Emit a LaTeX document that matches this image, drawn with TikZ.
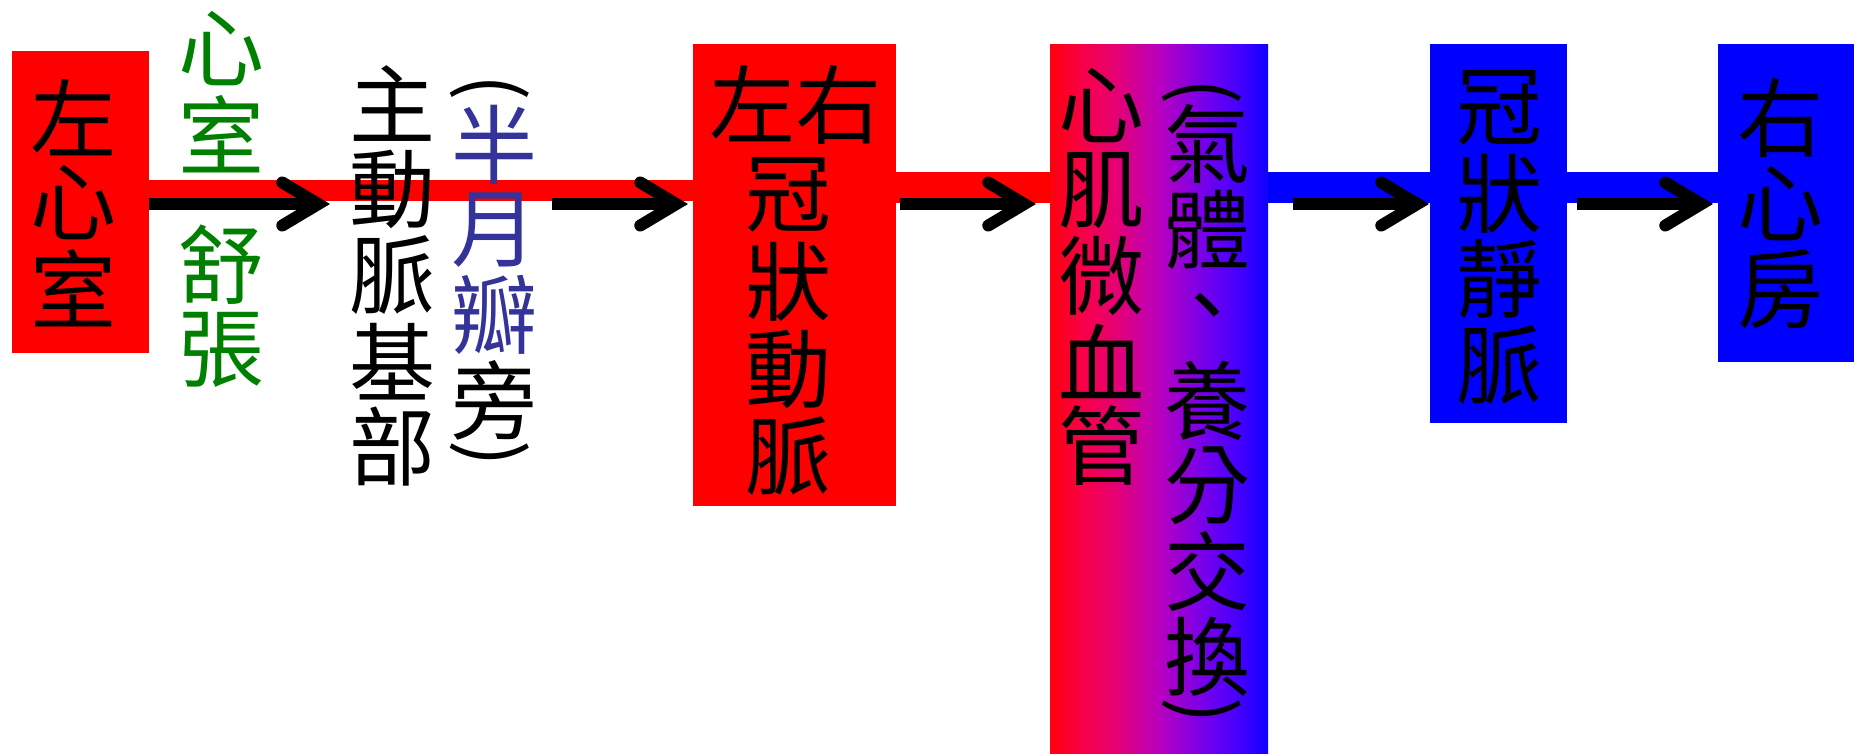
\documentclass[tikz,border=0pt]{standalone}
\usepackage{fontspec}
\newfontfamily\cjk{Noto Sans CJK TC}
\usetikzlibrary{arrows.meta}
\definecolor{cred}{RGB}{255,0,0}
\definecolor{cblue}{RGB}{0,0,255}
\definecolor{cgreen}{RGB}{0,128,0}
\definecolor{ctxtblue}{RGB}{51,51,153}
\pgfdeclarehorizontalshading{rbshade}{100bp}{rgb(0bp)=(1,0,0.05); rgb(25bp)=(1,0,0.05); rgb(32.5bp)=(0.97,0,0.28); rgb(40bp)=(0.9,0,0.45); rgb(50bp)=(0.72,0,0.75); rgb(60bp)=(0.47,0,0.92); rgb(69bp)=(0.25,0,1); rgb(75bp)=(0.05,0,1); rgb(100bp)=(0.05,0,1)}
\begin{document}
\begin{tikzpicture}[x=1pt,y=-1pt,
  box/.style={draw=none, inner sep=0pt, outer sep=0pt, rectangle},
  cj/.style={font=\cjk\fontsize{86}{86}\selectfont, inner sep=0pt, outer sep=0pt},
  paren/.style={font=\cjk\fontsize{78}{78}\selectfont, inner sep=0pt, outer sep=0pt, rotate=-90},
  flow/.style={line width=12pt, line cap=butt, -{Straight Barb[length=36pt,width=43pt,line cap=round,line join=miter]}},
]
\useasboundingbox (0,0) rectangle (1854,753);
% boxes
\node[box, fill=cred, minimum width=137pt, minimum height=302pt] (lv) at (80.5,202) {};
\node[box, fill=cred, minimum width=203pt, minimum height=462pt] (lca) at (794.5,275) {};
\node[box, shading=rbshade, minimum width=218pt, minimum height=709pt] (cap) at (1159,398.5) {};
\node[box, fill=cblue, minimum width=137pt, minimum height=379pt] (cv) at (1498.5,233.5) {};
\node[box, fill=cblue, minimum width=136pt, minimum height=318pt] (ra) at (1786,203) {};
% band levels
\coordinate (ya) at (0,190.5);
\coordinate (yb) at (0,187.5);
\coordinate (yc) at (0,204);
\draw[cred, line width=21pt] (lv.east |- ya) -- (lca.west |- ya);
\draw[cred, line width=31pt] (lca.east |- yb) -- (cap.west |- yb);
\draw[cblue, line width=31pt] (cap.east |- yb) -- (cv.west |- yb);
\draw[cblue, line width=31pt] (cv.east |- yb) -- (ra.west |- yb);
% texts (one node per character, vertical writing)
\foreach \c [count=\i from 0] in {左,心,室}
  \node[cj] (lvt-\i) at (73,118+85*\i) {\c};
\foreach \c [count=\i from 0] in {心,室}
  \node[cj, text=cgreen] (diaa-\i) at (221,49+85*\i) {\c};
\foreach \c [count=\i from 0] in {舒,張}
  \node[cj, text=cgreen] (diab-\i) at (221,265+85*\i) {\c};
\foreach \c [count=\i from 0] in {主,動,脈,基,部}
  \node[cj] (ao-\i) at (392,104+85.75*\i) {\c};
\foreach \c [count=\i from 0] in {半,月,瓣}
  \node[cj, text=ctxtblue] (semi-\i) at (494,145+85*\i) {\c};
\node[cj] (semi-3) at (494,400) {旁};
\node[paren] (semio) at (490,88) {(};
\node[paren] (semic) at (490,454) {)};
\node[cj] (lcat-0) at (795,105) {左右};
\foreach \c [count=\i from 1] in {冠,狀,動,脈}
  \node[cj] (lcat-\i) at (788,108+87*\i) {\c};
\foreach \c [count=\i from 0] in {心,肌,微,血,管}
  \node[cj] (capt-\i) at (1101,106+85*\i) {\c};
\foreach \c [count=\i from 0] in {氣,體,、,養,分,交,換}
  \node[cj] (gas-\i) at (1207,144+85.5*\i) {\c};
\node[paren] (gaso) at (1202,92) {(};
\node[paren] (gasc) at (1202,711) {)};
\foreach \c [count=\i from 0] in {冠,狀,靜,脈}
  \node[cj] (cvt-\i) at (1499,108+85.67*\i) {\c};
\foreach \c [count=\i from 0] in {右,心,房}
  \node[cj] (rat-\i) at (1780,118+85.5*\i) {\c};
% arrows
\draw[flow, shorten >=19pt] (lv.east |- yc) -- (ao-0.west |- yc);
\draw[flow, shorten <=15pt, shorten >=5pt] (semi-0.east |- yc) -- (lca.west |- yc);
\draw[flow, shorten <=4pt, shorten >=14pt] (lca.east |- yc) -- (cap.west |- yc);
\draw[flow, shorten <=25pt, shorten >=1pt] (cap.east |- yc) -- (cv.west |- yc);
\draw[flow, shorten <=10pt, shorten >=5pt] (cv.east |- yc) -- (ra.west |- yc);
\end{tikzpicture}
\end{document}
